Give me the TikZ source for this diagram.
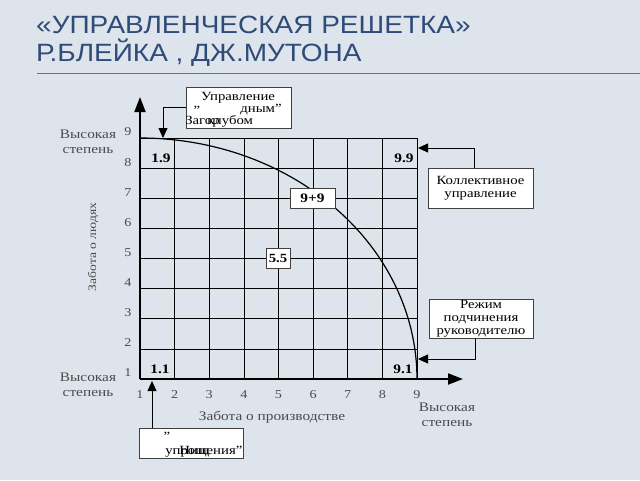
\documentclass[tikz,border=0pt]{standalone}
\usepackage{fontspec}
\setmainfont[FakeStretch=1.18]{Liberation Serif}
\newfontfamily\titlefont[FakeStretch=1.12]{Liberation Sans}
\usetikzlibrary{arrows.meta}
\definecolor{bgcol}{RGB}{222,228,235}
\definecolor{titlecol}{RGB}{47,75,122}
\definecolor{rulecol}{RGB}{92,118,158}
\definecolor{labcol}{RGB}{75,75,75}
\newcommand{\GX}{34.625}
\newcommand{\GY}{30.125}
\tikzset{
  box/.style={draw=black!75, fill=white, line width=0.6pt, inner sep=0pt, align=center,
    font=\fontsize{12.5}{13}\selectfont},
  boxtext/.style={box, draw=none, fill=none},
  tag/.style={font=\bfseries\fontsize{13}{13}\selectfont},
  ticklab/.style={text=labcol, font=\fontsize{12}{12}\selectfont},
  axlab/.style={text=labcol, align=center, font=\fontsize{13}{15}\selectfont},
  gridline/.style={line width=0.6pt},
  axis/.style={line width=2pt, -{Triangle[length=15pt,width=11pt]}},
  arr/.style={line width=0.8pt, -{Triangle[length=10pt,width=9pt]}}
}
\begin{document}
\begin{tikzpicture}[x=1pt,y=-1pt]
  \fill[bgcol] (0,0) rectangle (640,480);
  \useasboundingbox (0,0) rectangle (640,480);

  % title
  \node[anchor=base west, inner sep=0pt, text=titlecol, font=\titlefont\fontsize{25}{26}\selectfont] (title1) at (36,33) {«УПРАВЛЕНЧЕСКАЯ РЕШЕТКА»};
  \node[anchor=base west, inner sep=0pt, text=titlecol, font=\titlefont\fontsize{25}{26}\selectfont] (title2) at (36,61) {Р.БЛЕЙКА , ДЖ.МУТОНА};
  \draw[rulecol, line width=1pt] (37,73) -- (640,73);

  % grid
  \coordinate (O) at (140,379);
  \foreach \i in {1,...,8}
    \draw[gridline] (140,{379-\GY*\i}) -- (418,{379-\GY*\i});
  \foreach \i in {1,...,8}
    \draw[gridline] ({140+\GX*\i},138) -- ({140+\GX*\i},379);
  \foreach \i in {2,4,6}
    \draw[line width=1.1pt] ({140+\GX*\i},138) -- ({140+\GX*\i},379);

  % axes
  \coordinate (ytip) at (140,97);
  \coordinate (xtip) at (463,379);
  \draw[axis] (O) -- (ytip);
  \draw[axis] (O) -- (xtip);

  % tick labels
  \foreach \k in {1,...,9} {
    \node[ticklab] (yl\k) at (128,{373-\GY*(\k-1)}) {\k};
    \node[ticklab] (xl\k) at ({140+\GX*(\k-1)},395) {\k};
  }

  % curve
  \draw[line width=1.2pt] plot[domain=90:0, samples=60, smooth] ({140+277*cos(\x)},{379-241*sin(\x)});

  % grid points
  \node[tag] (t19) at (161,158) {1.9};
  \node[tag] (t99) at (404,158) {9.9};
  \node[tag] (t11) at (160,369) {1.1};
  \node[tag] (t91) at (403,369) {9.1};
  \node[box, font=\bfseries\fontsize{13}{13}\selectfont, minimum width=45pt, minimum height=20pt] (t9p9) at (312.5,198) {9+9};
  \node[box, font=\bfseries\fontsize{12.5}{13}\selectfont, minimum width=24pt, minimum height=20pt] (t55) at (278,258) {5.5};

  % axis names
  \node[axlab] (hiy) at (88,142) {Высокая\\степень};
  \node[axlab] (loy) at (88,385) {Высокая\\степень};
  \node[axlab] (hix) at (447,415) {Высокая\\степень};
  \node[axlab, rotate=90, font=\fontsize{11.5}{13}\selectfont] (people) at (93,247) {Забота о людях};
  \node[axlab] (prod) at (272,417) {Забота о производстве};

  % boxes
  \node[box, minimum width=105pt, minimum height=41pt] (clubbox) at (238.5,107.5) {};
  \node[boxtext] (cl1) at (238,98) {Управление};
  \node[boxtext] (cl2) at (197,110) {"};
  \node[boxtext] (cl3) at (261,110) {дным"};
  \node[boxtext, anchor=base west] (cl4) at (185,124) {Загор};
  \node[boxtext, anchor=base west] (cl5) at (207,124) {клубом};

  \node[box, minimum width=105pt, minimum height=40pt] (kollbox) at (480.5,188) {Коллективное\\управление};
  \node[box, minimum width=104pt, minimum height=39pt] (rezhbox) at (481,318.5) {Режим\\подчинения\\руководителю};

  \node[box, minimum width=104pt, minimum height=30pt] (pushbox) at (191,443) {};
  \node[boxtext] (pu1) at (167,436) {"};
  \node[boxtext, anchor=base west] (pu2) at (165,454) {упрощения"};
  \node[boxtext, anchor=base west] (pu3) at (179,454) {Нищ};

  % arrows
  \coordinate (p19) at (163,138);
  \coordinate (p99) at (418,148);
  \coordinate (p91) at (418,359);
  \coordinate (p11) at (152,381);
  \draw[arr] (clubbox.west) -| (p19);
  \draw[arr] ([xshift=-6pt]kollbox.north) |- (p99);
  \draw[arr] ([xshift=-6pt]rezhbox.south) |- (p91);
  \draw[arr] (pushbox.north -| p11) -- (p11);
\end{tikzpicture}
\end{document}
